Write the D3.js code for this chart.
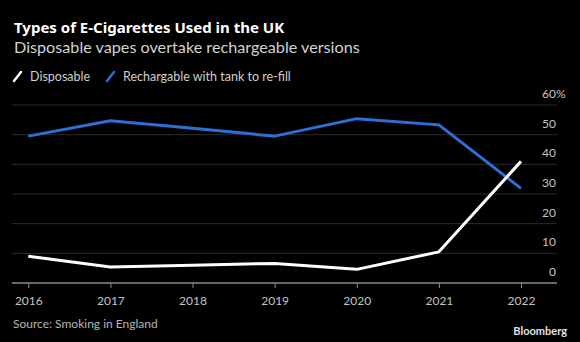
<!DOCTYPE html>
<html>
<head>
<meta charset="utf-8">
<script src="https://cdn.jsdelivr.net/npm/d3@7"></script>
<style>
  body { margin: 0; background: #000; }
  svg { display: block; font-family: Lato, "Noto Sans", sans-serif; }
</style>
</head>
<body>
<div id="chart"></div>
<script>
// values
var years = [2016, 2017, 2018, 2019, 2020, 2021, 2022];
var disposable = [9, 5.4, 6, 6.6, 4.6, 10.5, 41];
var rechargeable = [49.5, 54.7, 52.2, 49.5, 55.4, 53.3, 31.9];
var yTicks = [0, 10, 20, 30, 40, 50, 60];

var width = 580, height = 342;
var margins = {left: 12, right: 23, top: 105, bottom: 59};

var svg = d3.select('#chart').append('svg')
  .attr('width', width)
  .attr('height', height);

svg.append('rect').attr('width', width).attr('height', height).attr('fill', '#000');

// scales: the plot runs from the left edge to the label column
var x = d3.scaleLinear().domain([2016, 2022]).range([28.3, 521]);
var y = d3.scaleLinear().domain([0, 60]).range([height - margins.bottom, margins.top]);
var x0 = margins.left, x1 = width - margins.right;

// titles
svg.append('text').attr('x', 14).attr('y', 33)
  .attr('fill', '#fff').style('font-size', '15px').style('font-weight', 700)
  .style('font-family', '"Noto Sans", sans-serif')
  .text('Types of E-Cigarettes Used in the UK');
svg.append('text').attr('x', 14).attr('y', 53)
  .attr('fill', '#d2d2d2').style('font-size', '16.2px')
  .text('Disposable vapes overtake rechargeable versions');

// legend
var legend = [
  {label: 'Disposable', color: '#ffffff', x: 13},
  {label: 'Rechargable with tank to re-fill', color: '#2c6fd6', x: 106}
];
var lg = svg.selectAll('g.legend').data(legend).enter().append('g')
  .classed('legend', true)
  .attr('transform', function(d) { return 'translate(' + d.x + ',0)'; });
lg.append('line')
  .attr('x1', 1).attr('y1', 81).attr('x2', 8).attr('y2', 72)
  .attr('stroke', function(d) { return d.color; })
  .attr('stroke-width', 2.5).attr('stroke-linecap', 'round');
lg.append('text').attr('x', 17).attr('y', 81)
  .attr('fill', '#cfcfcf').style('font-size', '12.5px')
  .text(function(d) { return d.label; });

// gridlines
svg.append('g').selectAll('line').data(yTicks.filter(function(t) { return t > 0; }))
  .enter().append('line')
  .attr('x1', x0).attr('x2', x1)
  .attr('y1', function(d) { return y(d); })
  .attr('y2', function(d) { return y(d); })
  .attr('stroke', '#2d2d2d').attr('stroke-width', 1);

// y labels sit above their gridline, right aligned, % hanging
svg.append('g').selectAll('text').data(yTicks).enter().append('text')
  .attr('x', 556)
  .attr('y', function(d) { return y(d) - 7; })
  .attr('fill', '#c4c4c4').style('font-size', '12px')
  .attr('text-anchor', 'end')
  .text(function(d) { return d; });
svg.append('text').attr('x', 556).attr('y', y(60) - 7)
  .attr('fill', '#c4c4c4').style('font-size', '12px')
  .text('%');

// x axis
var xAxis = d3.axisBottom(x).tickValues(years).tickFormat(d3.format('d'))
  .tickSize(5).tickPadding(8);
var gx = svg.append('g').attr('transform', 'translate(0,' + y(0) + ')').call(xAxis);
gx.select('.domain').remove();
gx.append('line').attr('x1', x0).attr('x2', x1).attr('stroke', '#8c8c8c').attr('stroke-width', 1.5);
gx.selectAll('.tick line').attr('stroke', '#8c8c8c');
gx.selectAll('.tick text').attr('fill', '#c4c4c4')
  .style('font-size', '12px').style('font-family', 'Lato, "Noto Sans", sans-serif');

// series
var line = d3.line()
  .x(function(d, i) { return x(years[i]); })
  .y(function(d) { return y(d); });

svg.append('path').datum(rechargeable)
  .attr('d', line).attr('fill', 'none')
  .attr('stroke', '#2c6fd6').attr('stroke-width', 3).attr('stroke-linejoin', 'round');
svg.append('path').datum(disposable)
  .attr('d', line).attr('fill', 'none')
  .attr('stroke', '#ffffff').attr('stroke-width', 3).attr('stroke-linejoin', 'round');

// footer
svg.append('text').attr('x', 13).attr('y', 328)
  .attr('fill', '#b5b5b5').style('font-size', '12px')
  .text('Source: Smoking in England');
svg.append('text').attr('x', 567).attr('y', 335)
  .attr('text-anchor', 'end')
  .attr('fill', '#e0e0e0').style('font-size', '11px').style('font-weight', 700)
  .text('Bloomberg');
</script>
</body>
</html>
